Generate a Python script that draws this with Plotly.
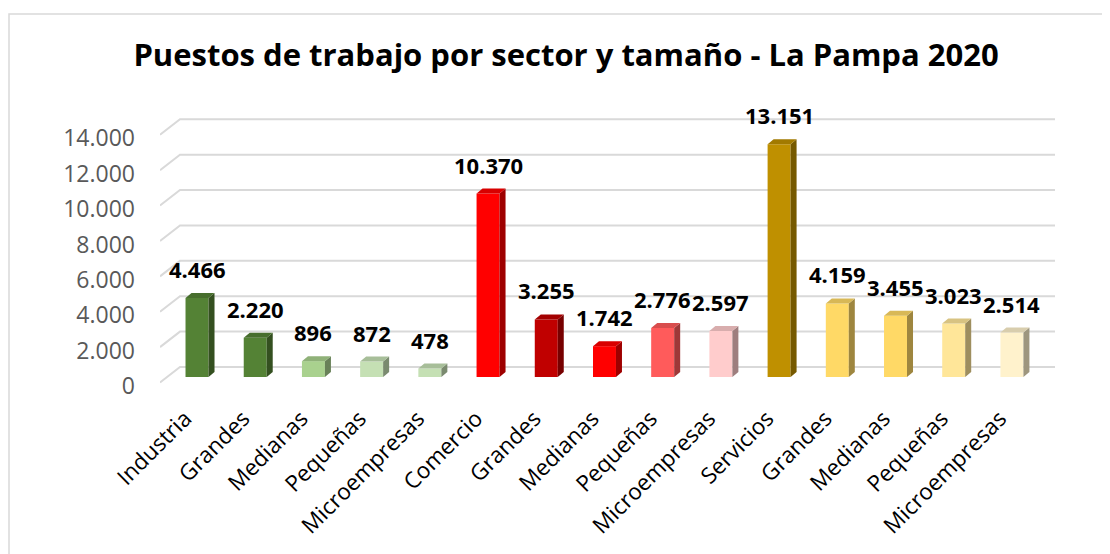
import plotly.graph_objects as go

categories = ["Industria", "Grandes", "Medianas", "Pequeñas", "Microempresas",
              "Comercio", "Grandes", "Medianas", "Pequeñas", "Microempresas",
              "Servicios", "Grandes", "Medianas", "Pequeñas", "Microempresas"]
values = [4466, 2220, 896, 872, 478,
          10370, 3255, 1742, 2776, 2597,
          13151, 4159, 3455, 3023, 2514]
colors = ["#548235", "#548235", "#A9D18E", "#C5E0B4", "#C5E0B4",
          "#FF0000", "#C00000", "#FF0000", "#FF5B5B", "#FFCCCC",
          "#BF9000", "#FFD966", "#FFD966", "#FFE699", "#FFF2CC"]
tick_vals = [0, 2000, 4000, 6000, 8000, 10000, 12000, 14000]
title = "Puestos de trabajo por sector y tamaño - La Pampa 2020"

FONT = "Open Sans"
OFF = 8  # page body margin
W, H = 1110, 554
L = 160 - OFF
R = W - (1055 - OFF)
T = 100 - OFF
B = H - (395 - OFF)
plot_w = W - L - R
plot_h = H - T - B
x0, x1 = -0.636, 14.74
px_x = plot_w / (x1 - x0)          # px per category unit
zero_px = 377 - 100                 # distance from top of plot to zero line
k = 247.7 / 14000                   # px per unit
y0 = -(plot_h - zero_px) / k
y1 = y0 + plot_h / k

bw = 0.395
ddx = 6 / px_x
ddy = 5 / k


def shade(hexc, f):
    h = hexc.lstrip("#")
    r, g, b = (int(h[i:i + 2], 16) for i in (0, 2, 4))
    return "#%02X%02X%02X" % (int(r * f), int(g * f), int(b * f))


xs = list(range(len(categories)))
fig = go.Figure()
fig.add_trace(go.Bar(x=xs, y=values, width=bw, marker=dict(color=colors, line=dict(width=0)),
                     hoverinfo="skip", showlegend=False))

shapes = []
# 3D-style gridlines (back wall + diagonal floor link)
gx_front = x0
gx_back = x0 + 20 / px_x
for v in tick_vals:
    yf = v - 5.5 / k
    yb = v + 10 / k
    shapes.append(dict(type="path", xref="x", yref="y", layer="below",
                       path=f"M {gx_front},{yf} L {gx_back},{yb} L {x1},{yb}",
                       line=dict(color="#D9D9D9", width=2)))

# side and top faces of each column
for i, v in enumerate(values):
    xr = i + bw / 2
    xl = i - bw / 2
    side = shade(colors[i], 0.62)
    top = shade(colors[i], 0.85)
    shapes.append(dict(type="path", xref="x", yref="y", layer="above",
                       path=f"M {xr},0 L {xr + ddx},{ddy} L {xr + ddx},{v + ddy} L {xr},{v} Z",
                       fillcolor=side, line=dict(width=0)))
    shapes.append(dict(type="path", xref="x", yref="y", layer="above",
                       path=f"M {xl},{v} L {xl + ddx},{v + ddy} L {xr + ddx},{v + ddy} L {xr},{v} Z",
                       fillcolor=top, line=dict(width=0)))

# outer chart frame
shapes.append(dict(type="rect", xref="paper", yref="paper",
                   x0=(8 - OFF + 1 - L) / plot_w, x1=(W + 20 - L) / plot_w,
                   y0=-(H + 20 - T - plot_h) / plot_h, y1=(T + plot_h - (14 - OFF)) / plot_h,
                   line=dict(color="#D9D9D9", width=1.5), layer="below"))

annotations = []
for i, v in enumerate(values):
    annotations.append(dict(x=i, y=v, xref="x", yref="y", text=f"{v:,}".replace(",", "."),
                            showarrow=False, yanchor="bottom", yshift=12,
                            font=dict(family=FONT, size=22, color="#000000", weight="bold")))

fig.update_layout(
    width=W, height=H,
    margin=dict(l=L, r=R, t=T, b=B),
    paper_bgcolor="white", plot_bgcolor="white",
    separators=",.",
    title=dict(text=title, x=(566 - OFF) / W, xref="container", xanchor="center",
               y=1 - (55 - OFF) / H, yref="container", yanchor="middle",
               font=dict(family=FONT, size=31, color="#000000", weight="bold")),
    xaxis=dict(range=[x0, x1], tickvals=xs, ticktext=categories, tickangle=-45,
               showgrid=False, zeroline=False, showline=False, ticks="",
               ticklabelshift=-12, ticklabelstandoff=5,
               tickfont=dict(family=FONT, size=22.5, color="#000000")),
    yaxis=dict(range=[y0, y1], tickvals=tick_vals, tickformat=",d",
               showgrid=False, zeroline=False, showline=False, ticks="",
               ticklabelshift=9, ticklabelstandoff=24,
               tickfont=dict(family=FONT, size=23, color="#595959")),
    shapes=shapes,
    annotations=annotations,
)

fig.write_html("out.html")
